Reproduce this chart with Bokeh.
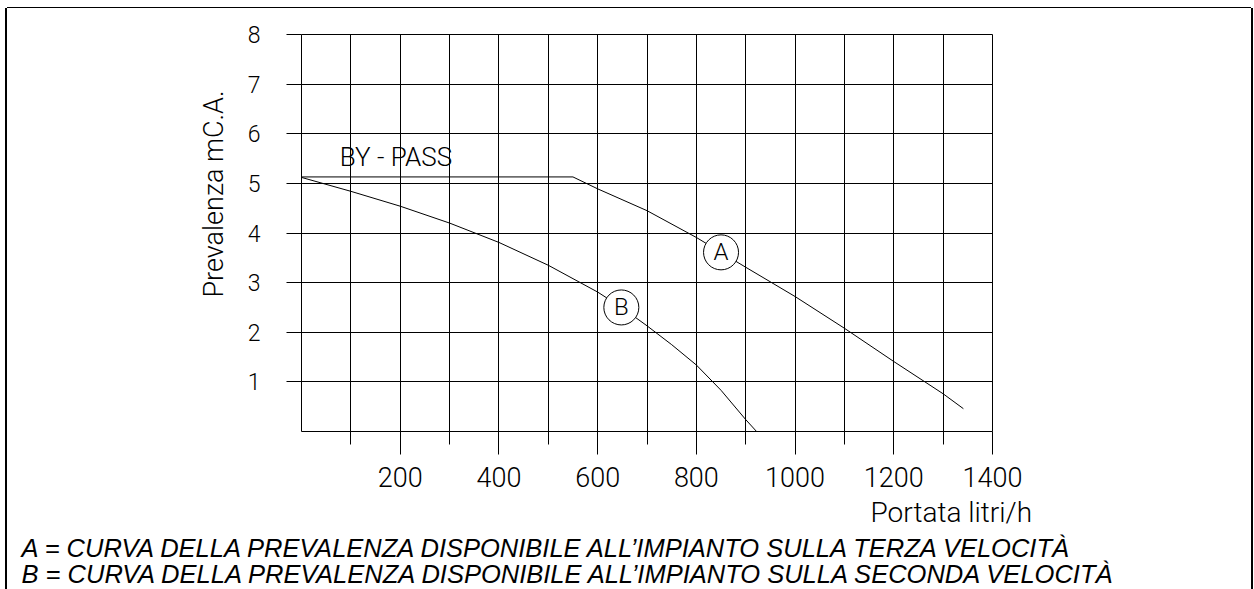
import math
from bokeh.plotting import figure
from bokeh.models import Range1d, FixedTicker, Label, Title
from bokeh.core.properties import value
from bokeh.embed import file_html
from bokeh.resources import INLINE

# ---- data ----
bypass_x = [0, 550]
bypass_y = [5.13, 5.13]
curve_a_x = [550, 600, 700, 800, 850, 900, 1000, 1100, 1200, 1300, 1341]
curve_a_y = [5.13, 4.89, 4.45, 3.91, 3.61, 3.31, 2.72, 2.08, 1.41, 0.76, 0.46]
curve_b_x = [0, 100, 200, 300, 400, 500, 600, 650, 700, 750, 800, 850, 900, 922]
curve_b_y = [5.12, 4.84, 4.54, 4.20, 3.81, 3.35, 2.81, 2.49, 2.13, 1.75, 1.34, 0.83, 0.24, 0.0]
marker_names = ["A", "B"]
marker_x = [850, 648]
marker_y = [3.61, 2.50]
x_major = [200, 400, 600, 800, 1000, 1200, 1400]
x_minor = [100, 300, 500, 700, 900, 1100, 1300]
y_ticks = [1, 2, 3, 4, 5, 6, 7, 8]
x_label = "Portata litri/h"
y_label = "Prevalenza mC.A."
bypass_label = "BY - PASS"
caption_a = "A = CURVA DELLA PREVALENZA DISPONIBILE ALL\u2019IMPIANTO SULLA TERZA VELOCIT\u00c0"
caption_b = "B = CURVA DELLA PREVALENZA DISPONIBILE ALL\u2019IMPIANTO SULLA SECONDA VELOCIT\u00c0"

CAD_S = "Roboto Light, Roboto"
CAP_S = "Liberation Sans"

p = figure(width=1244, height=581, x_range=Range1d(0, 1400), y_range=Range1d(0, 8),
           output_backend="svg", toolbar_location=None, title=None,
           min_border_left=294, min_border_right=259, min_border_top=26,
           min_border_bottom=158)
p.background_fill_color = "white"
p.border_fill_color = "white"
p.outline_line_color = "black"
p.outline_line_width = 1
p.styles = {"margin-left": "7px", "margin-top": "8px",
            "box-shadow": "-2px 0 0 0 black, 0 -1px 0 0 black, 2px 0 0 0 black"}

# grid
p.xgrid.ticker = FixedTicker(ticks=sorted(x_major + x_minor))
p.ygrid.ticker = FixedTicker(ticks=y_ticks)
for g in (p.xgrid, p.ygrid):
    g.grid_line_color = "black"
    g.grid_line_alpha = 1.0
    g.grid_line_width = 1

# x axis
xa = p.xaxis[0]
xa.ticker = FixedTicker(ticks=x_major, minor_ticks=x_minor)
xa.axis_line_color = None
xa.major_tick_in = 0
xa.major_tick_out = 23
xa.minor_tick_in = 0
xa.minor_tick_out = 13
xa.major_tick_line_color = "black"
xa.minor_tick_line_color = "black"
xa.major_label_standoff = 12
xa.major_label_text_font = CAD_S
xa.major_label_text_font_size = "27px"
xa.major_label_text_color = "black"

# y axis
ya = p.yaxis[0]
ya.ticker = FixedTicker(ticks=y_ticks, minor_ticks=[])
ya.axis_line_color = None
ya.major_tick_in = 0
ya.major_tick_out = 15
ya.minor_tick_in = 0
ya.minor_tick_out = 0
ya.minor_tick_line_color = None
ya.major_tick_line_color = "black"
ya.major_label_standoff = 26
ya.major_label_text_font = CAD_S
ya.major_label_text_font_size = "23px"
ya.major_label_text_color = "black"

# curves
p.line(bypass_x, bypass_y, line_color="black", line_width=1)
p.line(curve_a_x, curve_a_y, line_color="black", line_width=1)
p.line(curve_b_x, curve_b_y, line_color="black", line_width=1)

# circled letters
p.scatter(marker_x, marker_y, marker="circle", size=35, fill_color="white",
          line_color="black", line_width=1)
p.text(marker_x, marker_y, text=marker_names, text_align="center",
       text_baseline="middle", text_font=value(CAD_S), text_font_size="24px",
       text_color="black")

# BY-PASS label (inside the frame)
p.add_layout(Label(x=77.6, y=5.53, text=bypass_label, text_font=CAD_S,
                   text_font_size="26px", text_align="left",
                   text_baseline="alphabetic", text_color="black"))

# axis titles and captions (outside the frame)
p.add_layout(Title(text=y_label, align="left", offset=134, vertical_align="bottom",
                   standoff=29, text_font=CAD_S, text_font_size="27px",
                   text_font_style="normal", text_color="black"), "left")
p.add_layout(Title(text=x_label, align="left", offset=569, vertical_align="top",
                   standoff=12, text_font=CAD_S, text_font_size="28px",
                   text_font_style="normal", text_color="black"), "below")
p.add_layout(Title(text=caption_a, align="left", offset=-280, vertical_align="top",
                   standoff=-6, text_font=CAP_S, text_font_size="25.5px",
                   text_font_style="italic", text_color="black"), "below")
p.add_layout(Title(text=caption_b, align="left", offset=-280, vertical_align="top",
                   standoff=-2, text_font=CAP_S, text_font_size="25.5px",
                   text_font_style="italic", text_color="black"), "below")

open("out.html", "w").write(file_html(p, INLINE))
